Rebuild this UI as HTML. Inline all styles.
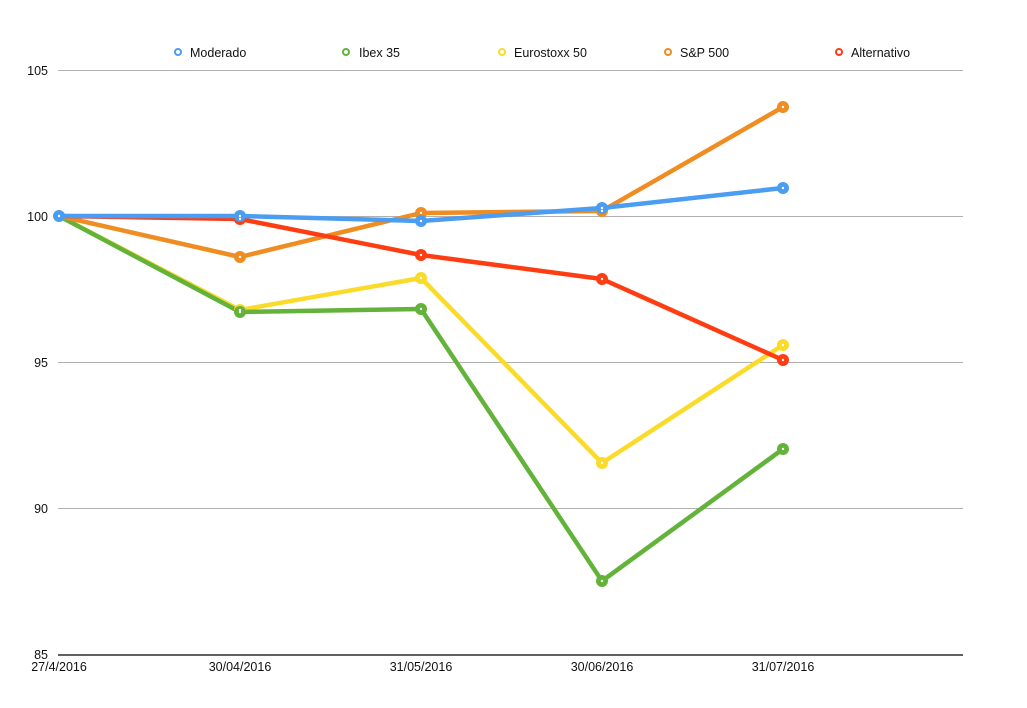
<!DOCTYPE html>
<html><head><meta charset="utf-8"><style>body{margin:0;background:#fff}svg{display:block}text{font-family:"Liberation Sans",Arial,sans-serif;font-size:12.5px;fill:#111}</style></head><body>
<svg width="1027" height="708" viewBox="0 0 1027 708">
<defs>
<g id="d"><circle r="1.2" fill="#fff"/></g>
</defs>
<g stroke="#b0b0b0" stroke-width="1">
<line x1="58" y1="70.5" x2="963" y2="70.5"/><line x1="58" y1="216.5" x2="963" y2="216.5"/><line x1="58" y1="362.5" x2="963" y2="362.5"/><line x1="58" y1="508.5" x2="963" y2="508.5"/>
</g>
<line x1="58" y1="655" x2="963" y2="655" stroke="#000" stroke-width="1.2"/>
<g text-anchor="end"><text x="48" y="75">105</text><text x="48" y="221">100</text><text x="48" y="367">95</text><text x="48" y="513">90</text><text x="48" y="659">85</text></g>
<g text-anchor="middle"><text x="59" y="671">27/4/2016</text><text x="240" y="671">30/04/2016</text><text x="421" y="671">31/05/2016</text><text x="602" y="671">30/06/2016</text><text x="783" y="671">31/07/2016</text></g>
<g fill="none" stroke-width="4.5" stroke-linejoin="round">
<polyline stroke="#fbdb2a" points="59,216 240,310 421,278 602,463 783,345"/>
<polyline stroke="#63b33b" points="59,216 240,312 421,309 602,581 783,449"/>
<polyline stroke="#ef8c22" points="59,216 240,257 421,213 602,211 783,107"/>
<polyline stroke="#fe3d13" points="59,216 240,219 421,255 602,279 783,360"/>
<polyline stroke="#4a9df0" points="59,216 240,216 421,221 602,208 783,188"/>
</g>
<g>
<g fill="#fbdb2a"><circle cx="240" cy="310" r="6"/><circle cx="421" cy="278" r="6"/><circle cx="602" cy="463" r="6"/><circle cx="783" cy="345" r="6"/></g>
<g fill="#63b33b"><circle cx="240" cy="312" r="6"/><circle cx="421" cy="309" r="6"/><circle cx="602" cy="581" r="6"/><circle cx="783" cy="449" r="6"/></g>
<g fill="#ef8c22"><circle cx="240" cy="257" r="6"/><circle cx="421" cy="213" r="6"/><circle cx="602" cy="211" r="6"/><circle cx="783" cy="107" r="6"/></g>
<g fill="#fe3d13"><circle cx="240" cy="219" r="6"/><circle cx="421" cy="255" r="6"/><circle cx="602" cy="279" r="6"/><circle cx="783" cy="360" r="6"/></g>
<g fill="#4a9df0"><circle cx="59" cy="216" r="6"/><circle cx="240" cy="216" r="6"/><circle cx="421" cy="221" r="6"/><circle cx="602" cy="208" r="6"/><circle cx="783" cy="188" r="6"/></g>
</g>
<g fill="#fff">
<circle cx="240" cy="310" r="1.2"/><circle cx="421" cy="278" r="1.2"/><circle cx="602" cy="463" r="1.2"/><circle cx="783" cy="345" r="1.2"/>
<circle cx="240" cy="312" r="1.2"/><circle cx="421" cy="309" r="1.2"/><circle cx="602" cy="581" r="1.2"/><circle cx="783" cy="449" r="1.2"/>
<circle cx="240" cy="257" r="1.2"/><circle cx="421" cy="213" r="1.2"/><circle cx="602" cy="211" r="1.2"/><circle cx="783" cy="107" r="1.2"/>
<circle cx="240" cy="219" r="1.2"/><circle cx="421" cy="255" r="1.2"/><circle cx="602" cy="279" r="1.2"/><circle cx="783" cy="360" r="1.2"/>
<circle cx="59" cy="216" r="1.2"/><circle cx="240" cy="216" r="1.2"/><circle cx="421" cy="221" r="1.2"/><circle cx="602" cy="208" r="1.2"/><circle cx="783" cy="188" r="1.2"/>
</g>
<g stroke-width="2" fill="#fff">
<circle cx="178" cy="52" r="3" stroke="#4a9df0"/><circle cx="346" cy="52" r="3" stroke="#63b33b"/><circle cx="502" cy="52" r="3" stroke="#fbdb2a"/><circle cx="668" cy="52" r="3" stroke="#ef8c22"/><circle cx="839" cy="52" r="3" stroke="#fe3d13"/>
</g>
<text x="190" y="57">Moderado</text><text x="359" y="57">Ibex 35</text><text x="514" y="57">Eurostoxx 50</text><text x="680" y="57">S&amp;P 500</text><text x="851" y="57">Alternativo</text>
</svg>
</body></html>
